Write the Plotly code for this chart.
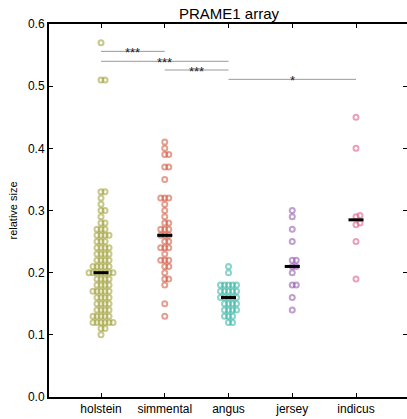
import plotly.graph_objects as go
import statistics

categories = ["holstein", "simmental", "angus", "jersey", "indicus"]

holstein = [0.57, 0.51, 0.51, 0.33, 0.33, 0.32, 0.31, 0.30, 0.30, 0.29,
            0.28, 0.28, 0.27, 0.27, 0.27, 0.26, 0.26, 0.26, 0.26,
            0.25, 0.25, 0.25, 0.24, 0.24, 0.24, 0.24, 0.23, 0.23, 0.23, 0.23,
            0.22, 0.22, 0.22, 0.22, 0.21, 0.21, 0.21, 0.21, 0.21,
            0.20, 0.20, 0.20, 0.20, 0.20, 0.20, 0.20, 0.19, 0.19, 0.19, 0.19,
            0.18, 0.18, 0.18, 0.18, 0.17, 0.17, 0.17, 0.17, 0.17,
            0.16, 0.16, 0.16, 0.16, 0.15, 0.15, 0.15, 0.15, 0.14, 0.14, 0.14, 0.14,
            0.13, 0.13, 0.13, 0.13, 0.13, 0.12, 0.12, 0.12, 0.12, 0.12, 0.12,
            0.11, 0.11, 0.10]
simmental = [0.41, 0.40, 0.39, 0.39, 0.37, 0.37, 0.35, 0.32, 0.32, 0.32,
             0.31, 0.30, 0.29, 0.28, 0.28, 0.27, 0.27, 0.27, 0.26, 0.26, 0.26,
             0.25, 0.25, 0.24, 0.24, 0.24, 0.23, 0.22, 0.22, 0.22, 0.21, 0.21,
             0.20, 0.19, 0.19, 0.18, 0.15, 0.13]
angus = [0.21, 0.20, 0.18, 0.18, 0.18, 0.18, 0.18, 0.17, 0.17, 0.17, 0.17, 0.17,
         0.16, 0.16, 0.16, 0.16, 0.16, 0.15, 0.15, 0.15, 0.15,
         0.14, 0.14, 0.14, 0.14, 0.13, 0.13, 0.13, 0.12, 0.12]
jersey = [0.30, 0.29, 0.27, 0.25, 0.22, 0.22, 0.21, 0.21, 0.20, 0.18, 0.18, 0.16, 0.14]
indicus = [0.45, 0.40, 0.292, 0.29, 0.28, 0.277, 0.25, 0.19]

groups = [holstein, simmental, angus, jersey, indicus]
colors = ["rgba(155,155,45,0.55)", "rgba(205,80,55,0.55)", "rgba(25,170,150,0.5)",
          "rgba(140,80,165,0.55)", "rgba(220,95,140,0.6)"]

# significance comparisons: (group a, group b, bar height, label)
sig_a = [0, 0, 1, 2]
sig_b = [1, 2, 2, 4]
sig_h = [0.556, 0.540, 0.526, 0.511]
sig_lab = ["***", "***", "***", "*"]

FIG_W, FIG_H = 407, 419
M_L, M_T, M_B, M_R = 49, 24, 22, 0
X_RANGE = [-0.816, 4.8]
Y_RANGE = [0.0, 0.6]
PLOT_W = FIG_W - M_L - M_R
PLOT_H = FIG_H - M_T - M_B
XPX = PLOT_W / (X_RANGE[1] - X_RANGE[0])
YPX = PLOT_H / (Y_RANGE[1] - Y_RANGE[0])


def swarm(vals, center, dmin=4.0):
    placed = []
    xs = [0.0] * len(vals)
    order = sorted(range(len(vals)), key=lambda i: vals[i])
    for i in order:
        y = vals[i] * YPX
        k = 0
        while True:
            off = ((k + 1) // 2) * (1 if k % 2 else -1)
            ok = all((off - px) ** 2 + (y - py) ** 2 >= dmin ** 2 for px, py in placed)
            if ok:
                break
            k += 1
        placed.append((off, y))
        xs[i] = center + off / XPX
    return xs


fig = go.Figure()

for gi, vals in enumerate(groups):
    fig.add_trace(go.Scatter(
        x=swarm(vals, gi), y=vals, mode="markers",
        marker=dict(symbol="circle-open", size=5, color=colors[gi],
                    line=dict(width=2, color=colors[gi])),
        showlegend=False, hoverinfo="y"))

for gi, vals in enumerate(groups):
    m = statistics.median(vals)
    fig.add_trace(go.Scatter(
        x=[gi - 0.118, gi + 0.118], y=[m, m], mode="lines",
        line=dict(color="black", width=3), showlegend=False, hoverinfo="skip"))

for a, b, h, lab in zip(sig_a, sig_b, sig_h, sig_lab):
    fig.add_trace(go.Scatter(
        x=[a, b], y=[h, h], mode="lines",
        line=dict(color="#999999", width=1), showlegend=False, hoverinfo="skip"))
    fig.add_annotation(x=(a + b) / 2, y=h, text=lab, showarrow=False,
                       xanchor="center", yanchor="middle", yshift=-1,
                       font=dict(family="Liberation Sans", size=13, color="#222"))

# dummy trace for right-side tick axis
fig.add_trace(go.Scatter(x=[None], y=[None], yaxis="y2", showlegend=False))

fig.add_annotation(x=(12 - M_L) / PLOT_W, y=0.5, xref="paper", yref="paper",
                   text="relative size", textangle=-90, showarrow=False,
                   xanchor="center", yanchor="middle",
                   font=dict(family="Liberation Sans", size=11, color="black"))

fig.update_layout(
    width=FIG_W, height=FIG_H,
    margin=dict(l=M_L, r=M_R, t=M_T, b=M_B, pad=0),
    paper_bgcolor="white", plot_bgcolor="white",
    font=dict(family="Liberation Sans", size=12, color="black"),
    title=dict(text="PRAME1 array", x=229 / FIG_W, xref="container",
               xanchor="center", y=1 - 14 / FIG_H, yref="container", yanchor="middle",
               font=dict(family="Liberation Sans", size=15, color="black")),
    xaxis=dict(range=X_RANGE, tickvals=list(range(len(categories))), ticktext=categories,
               showline=True, linewidth=2, linecolor="black", mirror="ticks",
               ticks="inside", ticklen=4, tickwidth=1, tickcolor="black",
               showgrid=False, zeroline=False, tickfont=dict(size=12)),
    yaxis=dict(range=Y_RANGE, tickvals=[0, 0.1, 0.2, 0.3, 0.4, 0.5, 0.6], tickformat=".1f",
               showline=True, linewidth=2, linecolor="black",
               ticks="inside", ticklen=4, tickwidth=1, tickcolor="black",
               showgrid=False, zeroline=False, tickfont=dict(size=12)),
    yaxis2=dict(range=Y_RANGE, overlaying="y", side="right",
                tickvals=[0, 0.1, 0.2, 0.3, 0.4, 0.5, 0.6], showticklabels=False,
                showline=False, ticks="inside", ticklen=4, tickwidth=1, tickcolor="black",
                showgrid=False, zeroline=False),
)

# remove the browser's default 8px body margin so the figure fills the window
fig.write_html("out.html", config={"displayModeBar": False},
               post_script="document.body.style.margin='0px';")
